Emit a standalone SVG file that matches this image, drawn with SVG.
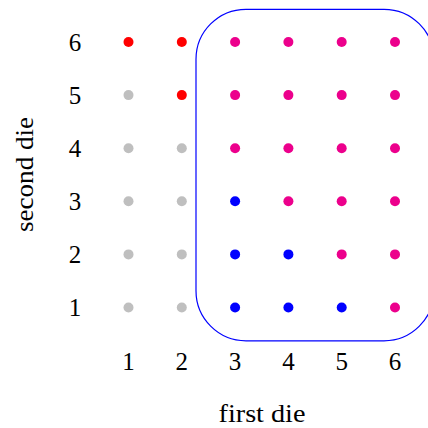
<svg xmlns="http://www.w3.org/2000/svg" width="428" height="428" viewBox="0 0 428 428">
<style>
text{font-family:"Liberation Serif","DejaVu Serif",serif;font-size:25px;fill:#000;text-anchor:middle}
.r{fill:#ff0000}.g{fill:#bfbfbf}.b{fill:#0000ff}.m{fill:#ec008c}
</style>
<rect width="428" height="428" fill="#fff"/>
<g id="connectors">
<rect id="event-box" x="196" y="9.3" width="238" height="331.5" rx="50" ry="50" fill="none" stroke="#0000ff" stroke-width="1.2"/>
</g>
<g id="dots">
<circle class="g" cx="128.5" cy="307.5" r="5"/><circle class="g" cx="128.5" cy="254.4" r="5"/><circle class="g" cx="128.5" cy="201.3" r="5"/><circle class="g" cx="128.5" cy="148.2" r="5"/><circle class="g" cx="128.5" cy="95.1" r="5"/><circle class="r" cx="128.5" cy="42" r="5"/>
<circle class="g" cx="181.8" cy="307.5" r="5"/><circle class="g" cx="181.8" cy="254.4" r="5"/><circle class="g" cx="181.8" cy="201.3" r="5"/><circle class="g" cx="181.8" cy="148.2" r="5"/><circle class="r" cx="181.8" cy="95.1" r="5"/><circle class="r" cx="181.8" cy="42" r="5"/>
<circle class="b" cx="235.1" cy="307.5" r="5"/><circle class="b" cx="235.1" cy="254.4" r="5"/><circle class="b" cx="235.1" cy="201.3" r="5"/><circle class="m" cx="235.1" cy="148.2" r="5"/><circle class="m" cx="235.1" cy="95.1" r="5"/><circle class="m" cx="235.1" cy="42" r="5"/>
<circle class="b" cx="288.4" cy="307.5" r="5"/><circle class="b" cx="288.4" cy="254.4" r="5"/><circle class="m" cx="288.4" cy="201.3" r="5"/><circle class="m" cx="288.4" cy="148.2" r="5"/><circle class="m" cx="288.4" cy="95.1" r="5"/><circle class="m" cx="288.4" cy="42" r="5"/>
<circle class="b" cx="341.7" cy="307.5" r="5"/><circle class="m" cx="341.7" cy="254.4" r="5"/><circle class="m" cx="341.7" cy="201.3" r="5"/><circle class="m" cx="341.7" cy="148.2" r="5"/><circle class="m" cx="341.7" cy="95.1" r="5"/><circle class="m" cx="341.7" cy="42" r="5"/>
<circle class="m" cx="395" cy="307.5" r="5"/><circle class="m" cx="395" cy="254.4" r="5"/><circle class="m" cx="395" cy="201.3" r="5"/><circle class="m" cx="395" cy="148.2" r="5"/><circle class="m" cx="395" cy="95.1" r="5"/><circle class="m" cx="395" cy="42" r="5"/>
</g>
<g id="x-ticks">
<text x="128.5" y="370">1</text><text x="181.8" y="370">2</text><text x="235.1" y="370">3</text><text x="288.4" y="370">4</text><text x="341.7" y="370">5</text><text x="395" y="370">6</text>
</g>
<g id="y-ticks">
<text x="75" y="316">1</text><text x="75" y="263">2</text><text x="75" y="210">3</text><text x="75" y="157">4</text><text x="75" y="104">5</text><text x="75" y="51">6</text>
</g>
<g id="x-label"><text x="262" y="422" textLength="87" lengthAdjust="spacingAndGlyphs">first die</text></g>
<g id="y-label"><text transform="translate(33,174.5) rotate(-90)" textLength="115" lengthAdjust="spacingAndGlyphs">second die</text></g>
</svg>
